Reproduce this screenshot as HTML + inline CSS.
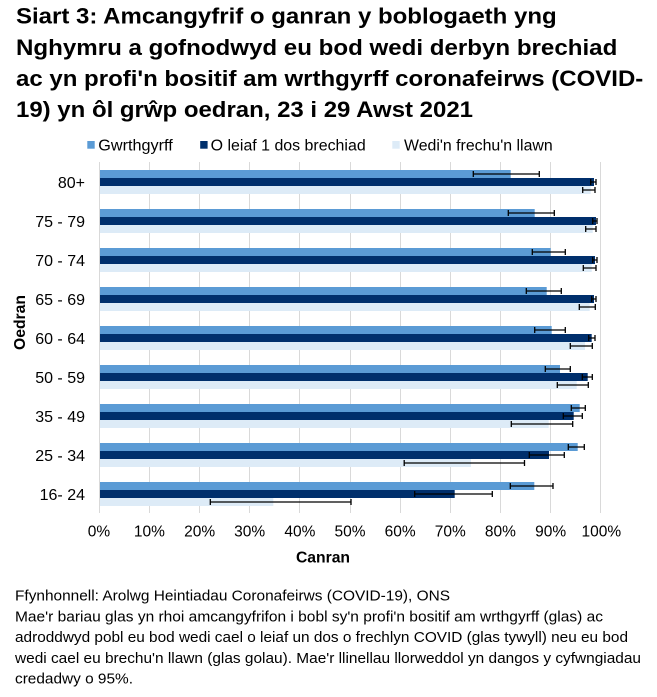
<!DOCTYPE html>
<html><head><meta charset="utf-8"><style>
html,body{margin:0;padding:0;background:#fff;}
svg{display:block;}
text{font-family:"Liberation Sans",Arial,sans-serif;fill:#000;}
</style></head><body>
<svg width="657" height="697" viewBox="0 0 657 697" xmlns="http://www.w3.org/2000/svg">
<rect width="657" height="697" fill="#fff"/>
<!-- Title -->
<g font-weight="bold" font-size="22">
<text x="16" y="23.5" textLength="540.7" lengthAdjust="spacingAndGlyphs">Siart 3: Amcangyfrif o ganran y boblogaeth yng</text>
<text x="16" y="54.8" textLength="601.3" lengthAdjust="spacingAndGlyphs">Nghymru a gofnodwyd eu bod wedi derbyn brechiad</text>
<text x="16" y="86" textLength="627.3" lengthAdjust="spacingAndGlyphs">ac yn profi'n bositif am wrthgyrff coronafeirws (COVID-</text>
<text x="16" y="117" textLength="457" lengthAdjust="spacingAndGlyphs">19) yn ôl grŵp oedran, 23 i 29 Awst 2021</text>
</g>
<!-- Legend -->
<rect x="87.3" y="141" width="7.4" height="7.7" fill="#5B9BD5"/>
<text x="98.3" y="150.7" font-size="15.5" textLength="74.4" lengthAdjust="spacingAndGlyphs">Gwrthgyrff</text>
<rect x="200.2" y="141" width="7.4" height="7.7" fill="#002F6C"/>
<text x="210.7" y="150.7" font-size="15.5" textLength="155" lengthAdjust="spacingAndGlyphs">O leiaf 1 dos brechiad</text>
<rect x="392.3" y="141" width="7.4" height="7.7" fill="#DDEBF7"/>
<text x="404" y="150.7" font-size="15.5" textLength="148.7" lengthAdjust="spacingAndGlyphs">Wedi'n frechu'n llawn</text>
<!-- Gridlines -->
<g stroke="#D9D9D9" stroke-width="1">
<line x1="99.5" y1="162" x2="99.5" y2="513"/>
<line x1="149.5" y1="162" x2="149.5" y2="513"/>
<line x1="199.5" y1="162" x2="199.5" y2="513"/>
<line x1="249.5" y1="162" x2="249.5" y2="513"/>
<line x1="299.5" y1="162" x2="299.5" y2="513"/>
<line x1="350.5" y1="162" x2="350.5" y2="513"/>
<line x1="400.5" y1="162" x2="400.5" y2="513"/>
<line x1="450.5" y1="162" x2="450.5" y2="513"/>
<line x1="500.5" y1="162" x2="500.5" y2="513"/>
<line x1="550.5" y1="162" x2="550.5" y2="513"/>
<line x1="600.5" y1="162" x2="600.5" y2="513"/>
</g>
<!-- Bars -->
<g>
<!-- 80+ top 170 -->
<rect x="100" y="170" width="410.7" height="8" fill="#5B9BD5"/>
<rect x="100" y="178" width="494" height="8" fill="#002F6C"/>
<rect x="100" y="186" width="490.7" height="8" fill="#DDEBF7"/>
<!-- 75-79 top 209 -->
<rect x="100" y="209" width="434.7" height="8" fill="#5B9BD5"/>
<rect x="100" y="217" width="496" height="8" fill="#002F6C"/>
<rect x="100" y="225" width="492.7" height="8" fill="#DDEBF7"/>
<!-- 70-74 top 248 -->
<rect x="100" y="248" width="450.7" height="8" fill="#5B9BD5"/>
<rect x="100" y="256" width="495" height="8" fill="#002F6C"/>
<rect x="100" y="264" width="491.7" height="8" fill="#DDEBF7"/>
<!-- 65-69 top 287 -->
<rect x="100" y="287" width="446.7" height="8" fill="#5B9BD5"/>
<rect x="100" y="295" width="494" height="8" fill="#002F6C"/>
<rect x="100" y="303" width="489.7" height="8" fill="#DDEBF7"/>
<!-- 60-64 top 326 -->
<rect x="100" y="326" width="451.7" height="8" fill="#5B9BD5"/>
<rect x="100" y="334" width="491.7" height="8" fill="#002F6C"/>
<rect x="100" y="342" width="485" height="8" fill="#DDEBF7"/>
<!-- 50-59 top 365 -->
<rect x="100" y="365" width="460" height="8" fill="#5B9BD5"/>
<rect x="100" y="373" width="487.7" height="8" fill="#002F6C"/>
<rect x="100" y="381" width="476.7" height="8" fill="#DDEBF7"/>
<!-- 35-49 top 404 -->
<rect x="100" y="404" width="479.7" height="8" fill="#5B9BD5"/>
<rect x="100" y="412" width="473.7" height="8" fill="#002F6C"/>
<rect x="100" y="420" width="448.7" height="8" fill="#DDEBF7"/>
<!-- 25-34 top 443 -->
<rect x="100" y="443" width="477.7" height="8" fill="#5B9BD5"/>
<rect x="100" y="451" width="449" height="8" fill="#002F6C"/>
<rect x="100" y="459" width="371" height="8" fill="#DDEBF7"/>
<!-- 16-24 top 482 -->
<rect x="100" y="482" width="434.3" height="8" fill="#5B9BD5"/>
<rect x="100" y="490" width="354.7" height="8" fill="#002F6C"/>
<rect x="100" y="498" width="173.3" height="8" fill="#DDEBF7"/>
</g>
<!-- Error bars -->
<g stroke="#000" stroke-width="1.3" fill="none">
<path d="M473.3 174H539.3M473.3 171V177M539.3 171V177"/>
<path d="M590.7 182H596M590.7 179V185M596 179V185"/>
<path d="M582.7 190H595M582.7 187V193M595 187V193"/>

<path d="M508.3 213H554.3M508.3 210V216M554.3 210V216"/>
<path d="M592.7 221H597M592.7 218V224M597 218V224"/>
<path d="M585.7 229H596M585.7 226V232M596 226V232"/>

<path d="M532.3 252H565.3M532.3 249V255M565.3 249V255"/>
<path d="M592.7 260H597M592.7 257V263M597 257V263"/>
<path d="M583.3 268H596M583.3 265V271M596 265V271"/>

<path d="M526.3 291H561.3M526.3 288V294M561.3 288V294"/>
<path d="M591.7 299H596M591.7 296V302M596 296V302"/>
<path d="M579.3 307H595.3M579.3 304V310M595.3 304V310"/>

<path d="M534.7 330H565.3M534.7 327V333M565.3 327V333"/>
<path d="M588.7 338H595M588.7 335V341M595 335V341"/>
<path d="M570.3 346H592.3M570.3 343V349M592.3 343V349"/>

<path d="M545.3 369H570.3M545.3 366V372M570.3 366V372"/>
<path d="M582.3 377H592.3M582.3 374V380M592.3 374V380"/>
<path d="M557.3 385H588.3M557.3 382V388M588.3 382V388"/>

<path d="M571.3 408H585.3M571.3 405V411M585.3 405V411"/>
<path d="M563.3 416H582.3M563.3 413V419M582.3 413V419"/>
<path d="M511.3 424H572.7M511.3 421V427M572.7 421V427"/>

<path d="M568.3 447H584.3M568.3 444V450M584.3 444V450"/>
<path d="M529.3 455H564.3M529.3 452V458M564.3 452V458"/>
<path d="M404.2 463H524.5M404.2 460V466M524.5 460V466"/>

<path d="M510.3 486H553M510.3 483V489M553 483V489"/>
<path d="M414.7 494H492.3M414.7 491V497M492.3 491V497"/>
<path d="M210.3 502H351M210.3 499V505M351 499V505"/>
</g>
<!-- Category labels -->
<g font-size="16" text-anchor="end">
<text x="85" y="188">80+</text>
<text x="85" y="227">75 - 79</text>
<text x="85" y="266">70 - 74</text>
<text x="85" y="305">65 - 69</text>
<text x="85" y="344">60 - 64</text>
<text x="85" y="383">50 - 59</text>
<text x="85" y="422">35 - 49</text>
<text x="85" y="461">25 - 34</text>
<text x="85" y="500">16- 24</text>
</g>
<!-- X tick labels -->
<g font-size="15.5" text-anchor="middle">
<text x="99" y="536.7">0%</text>
<text x="149.4" y="536.7">10%</text>
<text x="199.6" y="536.7">20%</text>
<text x="249.7" y="536.7">30%</text>
<text x="299.9" y="536.7">40%</text>
<text x="350" y="536.7">50%</text>
<text x="400.1" y="536.7">60%</text>
<text x="450.3" y="536.7">70%</text>
<text x="500.4" y="536.7">80%</text>
<text x="550.6" y="536.7">90%</text>
<text x="601.3" y="536.7">100%</text>
</g>
<!-- Axis titles -->
<text x="323" y="562.7" font-size="15.7" font-weight="bold" text-anchor="middle">Canran</text>
<text transform="translate(25 322.5) rotate(-90)" x="0" y="0" font-size="15.7" font-weight="bold" text-anchor="middle">Oedran</text>
<!-- Footnote -->
<g font-size="15">
<text x="15" y="600.3" textLength="435" lengthAdjust="spacingAndGlyphs">Ffynhonnell: Arolwg Heintiadau Coronafeirws (COVID-19), ONS</text>
<text x="15" y="621.3" textLength="588" lengthAdjust="spacingAndGlyphs">Mae'r bariau glas yn rhoi amcangyfrifon i bobl sy'n profi'n bositif am wrthgyrff (glas) ac</text>
<text x="15" y="642" textLength="613" lengthAdjust="spacingAndGlyphs">adroddwyd pobl eu bod wedi cael o leiaf un dos o frechlyn COVID (glas tywyll) neu eu bod</text>
<text x="15" y="663" textLength="626" lengthAdjust="spacingAndGlyphs">wedi cael eu brechu'n llawn (glas golau).  Mae'r llinellau llorweddol yn dangos y cyfwngiadau</text>
<text x="15" y="683.5" textLength="118" lengthAdjust="spacingAndGlyphs">credadwy o 95%.</text>
</g>
</svg>
</body></html>
